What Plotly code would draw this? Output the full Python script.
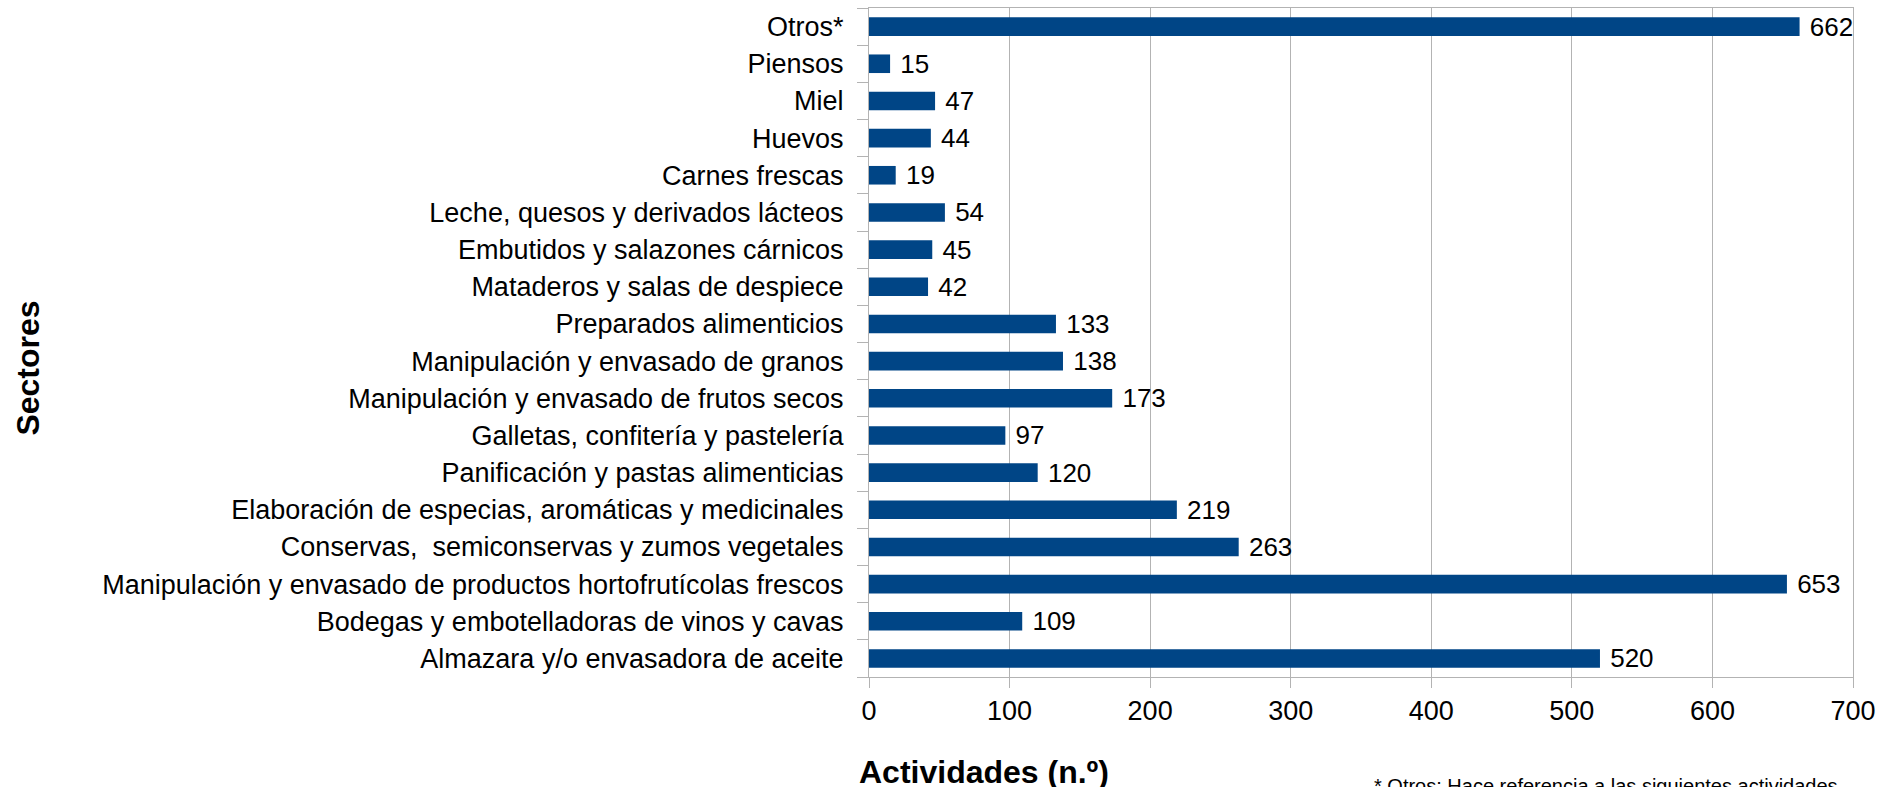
import plotly.graph_objects as go

# Sectors, bottom to top as drawn
sectores = [
    "Almazara y/o envasadora de aceite",
    "Bodegas y embotelladoras de vinos y cavas",
    "Manipulación y envasado de productos hortofrutícolas frescos",
    "Conservas,\u00a0 semiconservas y zumos vegetales",
    "Elaboración de especias, aromáticas y medicinales",
    "Panificación y pastas alimenticias",
    "Galletas, confitería y pastelería",
    "Manipulación y envasado de frutos secos",
    "Manipulación y envasado de granos",
    "Preparados alimenticios",
    "Mataderos y salas de despiece",
    "Embutidos y salazones cárnicos",
    "Leche, quesos y derivados lácteos",
    "Carnes frescas",
    "Huevos",
    "Miel",
    "Piensos",
    "Otros*",
]
actividades = [520, 109, 653, 263, 219, 120, 97, 173, 138, 133, 42, 45, 54, 19, 44, 47, 15, 662]

x_ticks = [0, 100, 200, 300, 400, 500, 600, 700]

FONT = "Liberation Sans, Arial, sans-serif"
grid = "#b3b3b3"

fig = go.Figure()
fig.add_trace(go.Bar(
    y=sectores,
    x=actividades,
    orientation="h",
    marker=dict(color="#004586", line=dict(width=0)),
    text=actividades,
    texttemplate="\u00a0%{x}",
    textposition="outside",
    constraintext="none",
    cliponaxis=False,
    textfont=dict(color="black", size=26, family=FONT),
    showlegend=False,
))

fig.update_layout(
    width=1879, height=787,
    margin=dict(l=869, r=26, t=8, b=110, autoexpand=False),
    paper_bgcolor="white",
    plot_bgcolor="white",
    bargap=0.5,
    font=dict(family=FONT, color="black", size=27),
)

fig.update_xaxes(
    range=[0, 700],
    tickvals=x_ticks,
    showgrid=True, gridcolor=grid, gridwidth=1,
    showline=True, linecolor=grid, linewidth=1, mirror=True,
    ticks="outside", ticklen=10, tickcolor=grid,
    tickfont=dict(size=27, color="black"),
    zeroline=False,
)
fig.update_yaxes(
    type="category",
    tickson="boundaries",
    showgrid=False,
    showline=True, linecolor=grid, linewidth=1, mirror=True,
    ticks="outside", ticklen=11, tickcolor=grid,
    tickfont=dict(size=27, color="black"),
    ticklabelstandoff=19,
)

fig.add_annotation(
    text="<b>Actividades (n.º)</b>", xref="paper", yref="paper",
    x=-0.012, y=-0.142, xanchor="left", yanchor="middle",
    showarrow=False, font=dict(size=32, family=FONT, color="black"),
)
fig.add_annotation(
    text="<b>Sectores</b>", xref="paper", yref="paper",
    x=-0.855, y=0.462, xanchor="center", yanchor="middle", textangle=-90,
    showarrow=False, font=dict(size=32, family=FONT, color="black"),
)
fig.add_annotation(
    text="* Otros: Hace referencia a las siguientes actividades", xref="paper", yref="paper",
    x=0.511, y=-0.143, xanchor="left", yanchor="top",
    showarrow=False, font=dict(size=20, family=FONT, color="black"),
)

# drop the default page margin so the figure fills the window exactly
fig.write_html(
    "out.html",
    config={"displayModeBar": False},
    post_script="document.body.style.margin='0';document.body.style.overflow='hidden';",
)
